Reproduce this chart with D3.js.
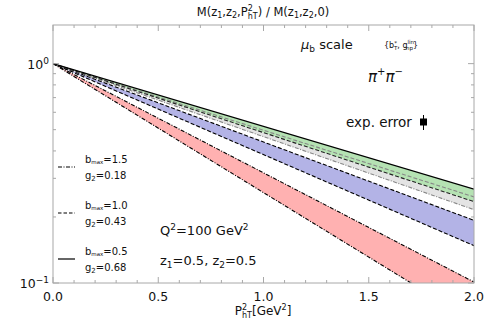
<!DOCTYPE html>
<html>
<head>
<meta charset="utf-8">
<script src="https://cdn.jsdelivr.net/npm/d3@7"></script>
<style>
  body { margin: 0; background: #fff; }
  svg text { font-family: "DejaVu Sans", sans-serif; fill: #111; }
</style>
</head>
<body>
<svg id="chart" width="498" height="329"></svg>
<script>
// x values where each band edge was read (start and end of the plot)
const pT2 = [0, 2.0];

// band edges, value of M ratio at pT2 = 0 and 2.0
const greenUpper = [1, 0.268];
const greenLower = [1, 0.235];
const grayMid = [1, 0.247];
const grayLower = [1, 0.216];
const blueUpper = [1, 0.193];
const blueLower = [1, 0.148];
const redUpper = [1, 0.101];
const redLower = [1, 0.0667];

const xTicks = [0, 0.5, 1.0, 1.5, 2.0];
const xTickLabels = ["0.0", "0.5", "1.0", "1.5", "2.0"];
const yTicks = [1, 0.1];
const yTickExp = ["0", "\u22121"];

const legendLabels = [
  { bmax: "1.5", g2: "0.18", dash: "4,1.5,1,1.5" },
  { bmax: "1.0", g2: "0.43", dash: "3.5,2" },
  { bmax: "0.5", g2: "0.68", dash: null }
];

const svg = d3.select("#chart");
const margin = { top: 25, right: 24, bottom: 46, left: 53 };
const width = 498 - margin.left - margin.right;
const height = 329 - margin.top - margin.bottom;

const x = d3.scaleLinear().domain([0, 2]).range([0, width]);
const y = d3.scaleLog().domain([0.1, 1.5]).range([height, 0]);

const g = svg.append("g").attr("transform", `translate(${margin.left},${margin.top})`);

svg.append("defs").append("clipPath").attr("id", "clip")
  .append("rect").attr("width", width).attr("height", height);

const plot = g.append("g").attr("clip-path", "url(#clip)");

const pts = v => pT2.map((p, i) => ({ x: p, y: v[i] }));
const area = d3.area().x(d => x(d.x)).y0(d => y(d.lo)).y1(d => y(d.hi));
const line = d3.line().x(d => x(d.x)).y(d => y(d.y));

function band(hi, lo, color) {
  plot.append("path")
    .datum(pT2.map((p, i) => ({ x: p, hi: hi[i], lo: lo[i] })))
    .attr("fill", color)
    .attr("d", area);
}
function edge(v, stroke, dash, w) {
  plot.append("path")
    .datum(pts(v))
    .attr("fill", "none")
    .attr("stroke", stroke)
    .attr("stroke-width", w || 1.1)
    .attr("stroke-dasharray", dash)
    .attr("d", line);
}

band(redUpper, redLower, "#ffb1b1");
band(blueUpper, blueLower, "#b3b3e6");
band(greenLower, grayLower, "#e4e4e4");
band(greenUpper, greenLower, "#b5e2b3");

edge(redUpper, "#000", "4,1.5,1,1.5");
edge(redLower, "#000", "4,1.5,1,1.5");
edge(blueUpper, "#000", "4,2");
edge(blueLower, "#000", "4,2");
edge(grayLower, "#888", "4,1.5,1,1.5");
edge(grayMid, "#888", "4,2");
edge(greenLower, "#222", "4,2");
edge(greenUpper, "#000", null, 1.2);

// frame and ticks
const frameColor = "#a8a8a8";
g.append("rect").attr("width", width).attr("height", height)
  .attr("fill", "none").attr("stroke", frameColor).attr("stroke-width", 1);

const minorX = d3.range(0, 2.001, 0.1);
minorX.forEach(v => {
  const major = Math.abs(v * 2 - Math.round(v * 2)) < 1e-6;
  const len = major ? 6 : 3;
  [[height, -len], [0, len]].forEach(([y0, d]) => {
    g.append("line").attr("x1", x(v)).attr("x2", x(v))
      .attr("y1", y0).attr("y2", y0 + d)
      .attr("stroke", frameColor);
  });
});

const minorY = [1, 0.9, 0.8, 0.7, 0.6, 0.5, 0.4, 0.3, 0.2, 0.1];
minorY.forEach(v => {
  const len = (v === 1 || v === 0.1) ? 6 : 3;
  [[0, len], [width, -len]].forEach(([x0, d]) => {
    g.append("line").attr("y1", y(v)).attr("y2", y(v))
      .attr("x1", x0).attr("x2", x0 + d)
      .attr("stroke", frameColor);
  });
});

g.selectAll("text.xtick").data(xTicks).enter().append("text")
  .attr("class", "xtick")
  .attr("x", d => x(d)).attr("y", height + 18)
  .attr("text-anchor", "middle").attr("font-size", 12.5)
  .text((d, i) => xTickLabels[i]);

yTicks.forEach((v, i) => {
  const t = g.append("text")
    .attr("x", -4).attr("y", y(v) + 5)
    .attr("text-anchor", "end").attr("font-size", 12.5);
  t.append("tspan").text("10");
  t.append("tspan").attr("dy", -5).attr("font-size", 9).text(yTickExp[i]);
});

// title
const title = svg.append("text").attr("x", 263).attr("y", 16)
  .attr("text-anchor", "middle").attr("font-size", 11.5);
title.append("tspan").text("M(z");
title.append("tspan").attr("font-size", 8).attr("dy", 2).text("1");
title.append("tspan").attr("dy", -2).text(",z");
title.append("tspan").attr("font-size", 8).attr("dy", 2).text("2");
title.append("tspan").attr("dy", -2).text(",P");
title.append("tspan").attr("font-size", 8).attr("dy", -5).text("2");
title.append("tspan").attr("font-size", 8).attr("dx", -5).attr("dy", 8).text("hT");
title.append("tspan").attr("dy", -3).text(") / M(z");
title.append("tspan").attr("font-size", 8).attr("dy", 2).text("1");
title.append("tspan").attr("dy", -2).text(",z");
title.append("tspan").attr("font-size", 8).attr("dy", 2).text("2");
title.append("tspan").attr("dy", -2).text(",0)");

// x label
const xl = svg.append("text").attr("x", 263).attr("y", 315)
  .attr("text-anchor", "middle").attr("font-size", 12);
xl.append("tspan").text("P");
xl.append("tspan").attr("font-size", 8).attr("dy", -5).text("2");
xl.append("tspan").attr("font-size", 8).attr("dx", -5).attr("dy", 8).text("hT");
xl.append("tspan").attr("dy", -3).text("[GeV");
xl.append("tspan").attr("font-size", 8).attr("dy", -5).text("2");
xl.append("tspan").attr("dy", 5).text("]");

// annotations
const mu = svg.append("text").attr("x", 301).attr("y", 49).attr("font-size", 13);
mu.append("tspan").attr("font-style", "italic").text("\u03bc");
mu.append("tspan").attr("font-size", 9).attr("dy", 3).text("b");
mu.append("tspan").attr("dy", -3).text(" scale");

const bs = svg.append("text").attr("x", 384).attr("y", 48).attr("font-size", 8);
bs.append("tspan").text("{b");
bs.append("tspan").attr("font-size", 5.5).attr("dy", -3).text("*");
bs.append("tspan").attr("font-size", 5.5).attr("dx", -3).attr("dy", 5).text("T");
bs.append("tspan").attr("dy", -2).text(", g");
bs.append("tspan").attr("font-size", 5.5).attr("dy", -4).text("lin");
bs.append("tspan").attr("font-size", 5.5).attr("dx", -8).attr("dy", 6).text("np");
bs.append("tspan").attr("dy", -2).text("}");

const pi = svg.append("text").attr("x", 368).attr("y", 82)
  .attr("font-size", 15).attr("font-style", "italic")
  .attr("font-family", "'DejaVu Serif', serif");
pi.append("tspan").text("\u03c0");
pi.append("tspan").attr("font-size", 10).attr("dy", -7).text("+");
pi.append("tspan").attr("dy", 7).text("\u03c0");
pi.append("tspan").attr("font-size", 10).attr("dy", -7).text("\u2212");

svg.append("text").attr("x", 346).attr("y", 127).attr("font-size", 13.5).text("exp. error");
svg.append("line").attr("x1", 423.5).attr("x2", 423.5).attr("y1", 115).attr("y2", 130)
  .attr("stroke", "#000").attr("stroke-width", 1);
svg.append("rect").attr("x", 420).attr("y", 118.5).attr("width", 7).attr("height", 7).attr("fill", "#000");

const q = svg.append("text").attr("x", 160).attr("y", 235).attr("font-size", 13);
q.append("tspan").text("Q");
q.append("tspan").attr("font-size", 9).attr("dy", -5).text("2");
q.append("tspan").attr("dy", 5).text("=100 GeV");
q.append("tspan").attr("font-size", 9).attr("dy", -5).text("2");

const z = svg.append("text").attr("x", 160).attr("y", 265).attr("font-size", 13);
z.append("tspan").text("z");
z.append("tspan").attr("font-size", 9).attr("dy", 3).text("1");
z.append("tspan").attr("dy", -3).text("=0.5, z");
z.append("tspan").attr("font-size", 9).attr("dy", 3).text("2");
z.append("tspan").attr("dy", -3).text("=0.5");

// legend
const legendY = [167, 213, 259];
legendLabels.forEach((d, i) => {
  const ly = legendY[i];
  svg.append("line").attr("x1", 58).attr("x2", 75).attr("y1", ly).attr("y2", ly)
    .attr("stroke", "#000").attr("stroke-width", 1.2)
    .attr("stroke-dasharray", d.dash);
  const t1 = svg.append("text").attr("x", 85).attr("y", ly - 4).attr("font-size", 10);
  t1.append("tspan").text("b");
  t1.append("tspan").attr("font-size", 5.5).attr("dy", 1).text("max");
  t1.append("tspan").attr("dy", -1).text("=" + d.bmax);
  const t2 = svg.append("text").attr("x", 85).attr("y", ly + 12).attr("font-size", 10);
  t2.append("tspan").text("g");
  t2.append("tspan").attr("font-size", 7).attr("dy", 2).text("2");
  t2.append("tspan").attr("dy", -2).text("=" + d.g2);
});
</script>
</body>
</html>
